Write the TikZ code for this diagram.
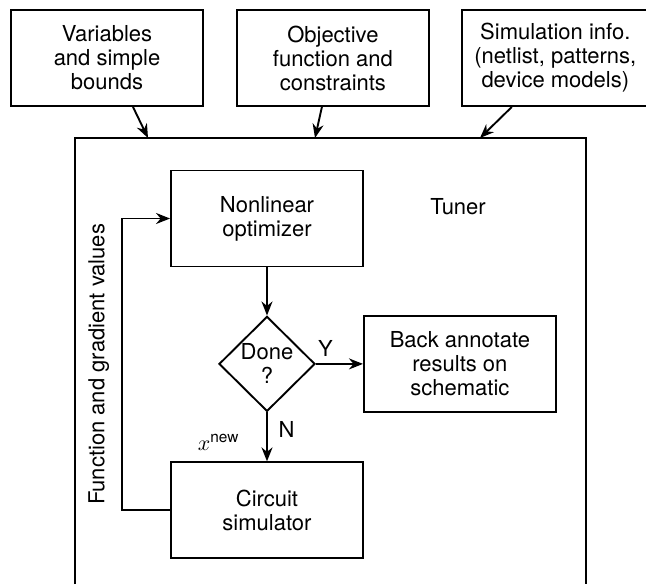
\documentclass[tikz,border=0pt]{standalone}
\usepackage{fontspec}
\setmainfont{TeX Gyre Heros}
\usepackage{amsmath}
\usetikzlibrary{arrows.meta,positioning,shapes.geometric}

\begin{document}
\begin{tikzpicture}[x=0.5pt, y=-0.5pt,
    box/.style={draw, line width=0.95pt, minimum width=96pt, minimum height=48pt,
                inner sep=0pt, align=center, font=\fontsize{11}{12}\selectfont},
    test/.style={draw, diamond, aspect=1, line width=0.95pt, minimum width=48pt,
                minimum height=47.5pt, inner sep=0pt, align=center,
                font=\fontsize{11}{12}\selectfont},
    arr/.style={-{Stealth[length=7pt,width=5.5pt]}, line width=0.95pt},
    lbl/.style={font=\fontsize{11}{12}\selectfont},
  ]
    \useasboundingbox (0,0) rectangle (646,584);
    % inputs
    \node[box] (vars) at (107,58) {Variables\\and simple\\bounds};
    \node[box, right=16pt of vars] (obj) {Objective\\function and\\constraints};
    \node[box, right=15.5pt of obj, minimum width=93.5pt] (siminfo)
         {Simulation info.\\(netlist, patterns,\\device models)};
    % tuner frame
    \draw[line width=0.95pt] (75,584) |- (586,138) -- (586,584);
    \node[lbl] (tuner) at (458,207) {Tuner};
    \coordinate (in1) at (148,138);
    \coordinate (in2) at (315,138);
    \coordinate (in3) at (480,138);
    \draw[arr] ([xshift=13pt]vars.south) -- (in1);
    \draw[arr] ([xshift=-5.5pt]obj.south) -- (in2);
    \draw[arr] ([xshift=-21.75pt]siminfo.south) -- (in3);
    % loop
    \node[box] (opt) at (267,218.5) {Nonlinear\\optimizer};
    \node[test, below=24pt of opt] (done) {Done\\?};
    \node[box, right=23.5pt of done] (back) {Back annotate\\results on\\schematic};
    \node[box, below=24.5pt of done] (csim) {Circuit\\simulator};
    \draw[arr] (opt) -- (done);
    \draw[arr] (done) -- node[pos=0.2, above, lbl] {Y} (back);
    \draw[arr] (done) -- node[pos=0.35, right=2pt, lbl] {N}
                         node[pos=0.62, left=10pt, lbl] {$x^{\text{new}}$} (csim);
    \draw[arr] (csim.west) -- ++(-24pt,0) |-
        node[pos=0.25, rotate=90, anchor=south, inner sep=6pt, lbl]
        {Function and gradient values} (opt.west);
  \end{tikzpicture}
\end{document}
